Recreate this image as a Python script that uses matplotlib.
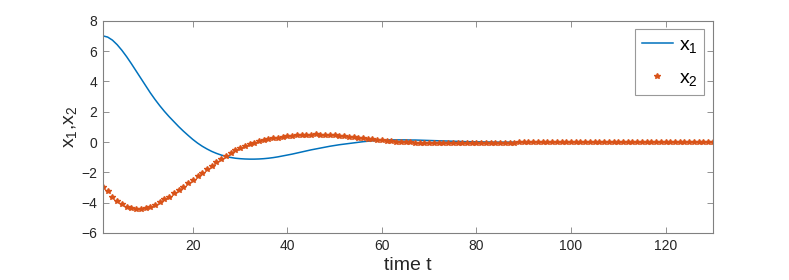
import matplotlib
matplotlib.use("Agg")
from matplotlib import pyplot as plt

# time steps 1..130
t = list(range(1, 131))

# x1
x1_head = [7.00, 6.92, 6.72, 6.42, 6.05, 5.63, 5.17, 4.69, 4.20, 3.72,
           3.25, 2.81, 2.40, 2.02, 1.67, 1.34, 1.02, 0.72, 0.44, 0.17,
           -0.07, -0.28, -0.46, -0.62, -0.75, -0.86, -0.95, -1.02, -1.07, -1.10,
           -1.12, -1.13, -1.13, -1.12, -1.10, -1.07, -1.03, -0.98, -0.92, -0.86,
           -0.80, -0.73, -0.66, -0.59, -0.52, -0.46, -0.40, -0.34, -0.28, -0.23,
           -0.18, -0.14, -0.10, -0.06, -0.02, 0.02, 0.05, 0.08, 0.10, 0.12,
           0.13, 0.14, 0.14, 0.14, 0.14, 0.13, 0.13, 0.12, 0.11, 0.10,
           0.09, 0.08, 0.07, 0.06, 0.05, 0.04, 0.03, 0.02, 0.02, 0.01,
           0.01, 0.00, 0.00, -0.01, -0.01, -0.01, -0.01, -0.01, -0.01, -0.01]
x1_tail = [0.00] * 40
x1 = x1_head + x1_tail

# x2
x2_head = [-3.00, -3.23, -3.60, -3.89, -4.10, -4.29, -4.37, -4.42, -4.42, -4.37,
           -4.26, -4.13, -3.95, -3.78, -3.60, -3.38, -3.16, -2.96, -2.72, -2.50,
           -2.24, -2.04, -1.80, -1.58, -1.33, -1.14, -0.92, -0.74, -0.54, -0.39,
           -0.26, -0.13, -0.04, 0.05, 0.12, 0.18, 0.24, 0.29, 0.34, 0.38,
           0.41, 0.44, 0.46, 0.48, 0.49, 0.50, 0.49, 0.48, 0.46, 0.44,
           0.42, 0.39, 0.36, 0.32, 0.29, 0.25, 0.22, 0.18, 0.15, 0.12,
           0.09, 0.06, 0.03, 0.01, -0.01, -0.03, -0.04, -0.05, -0.06, -0.07,
           -0.07, -0.08, -0.08, -0.08, -0.08, -0.08, -0.08, -0.08, -0.07, -0.07,
           -0.07, -0.06, -0.06, -0.05, -0.05, -0.04, -0.04, -0.04, -0.03, -0.03,
           -0.03, -0.02, -0.02, -0.02, -0.02, -0.01, -0.01, -0.01, -0.01, -0.01]
x2_tail = [0.00] * 30
x2 = x2_head + x2_tail

xticks = [20, 40, 60, 80, 100, 120]
yticks = [-6, -4, -2, 0, 2, 4, 6, 8]

plt.rcParams['font.family'] = ['Liberation Sans', 'DejaVu Sans']
plt.rcParams['mathtext.fontset'] = 'custom'
plt.rcParams['mathtext.rm'] = 'Liberation Sans'
plt.rcParams['mathtext.it'] = 'Liberation Sans'

fig = plt.figure(figsize=(7.89, 2.8), dpi=100)
ax = fig.add_axes([0.1305, 0.168, 0.773, 0.758])

ax.plot(t, x1, color='#0072BD', linewidth=1.1, label='$\\mathregular{x_1}$')
ax.plot(t, x2, linestyle='none', marker='*', markersize=4, color='#D95319',
        label='$\\mathregular{x_2}$')

ax.set_xlim(1, 130)
ax.set_ylim(-6, 8)
ax.set_xticks(xticks)
ax.set_yticks(yticks)
ax.tick_params(direction='in', top=True, right=True, length=4, width=0.6,
               labelsize=10, colors='#262626', pad=4)
for side in ax.spines.values():
    side.set_color('#808080')
    side.set_linewidth(0.8)
ax.tick_params(color='#808080')

ax.set_xlabel('time t', fontsize=14, color='#262626', labelpad=3)
ax.set_ylabel('$\\mathregular{x_1}$,$\\mathregular{x_2}$', fontsize=14,
              color='#262626', labelpad=2)

leg = ax.legend(loc='upper right', fontsize=14, handlelength=1.6,
                borderaxespad=0.45, fancybox=False, labelspacing=0.75,
                handletextpad=0.3, borderpad=0.35)
leg.get_frame().set_edgecolor('#808080')
leg.get_frame().set_linewidth(0.8)

plt.savefig('out.png', dpi=100)
